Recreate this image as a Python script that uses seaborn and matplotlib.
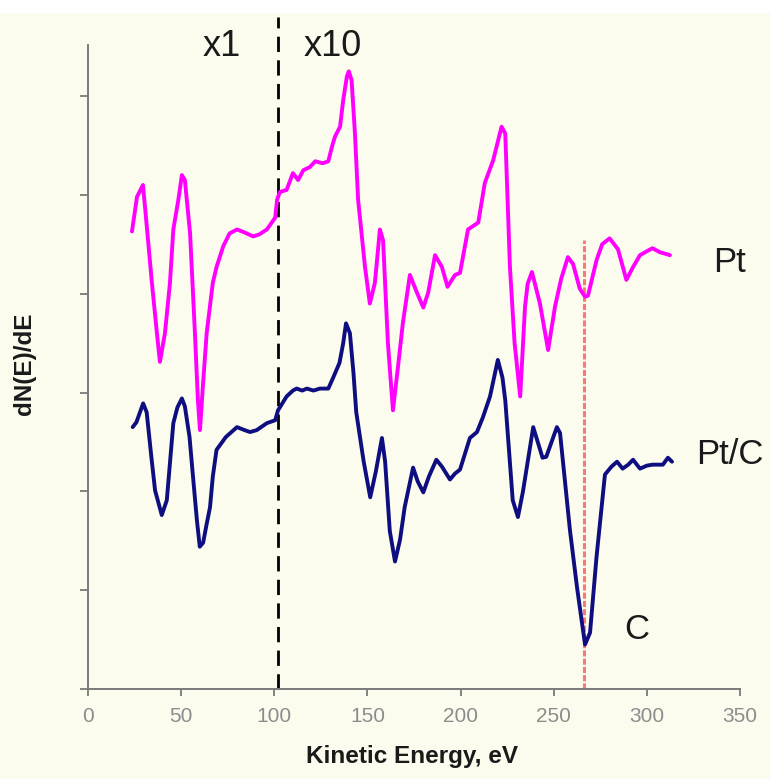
import matplotlib
matplotlib.use("Agg")
import matplotlib.pyplot as plt
import seaborn as sns
import pandas as pd
from matplotlib.patches import Rectangle

# ---- data ----
pt_energy = [23.6, 26.3, 29.5, 30.6, 34.3, 37.0, 38.6, 41.3, 44.0, 45.8, 48.5, 50.4, 52.0,
             54.8, 57.4, 59.0, 60.1, 61.8, 63.7, 67.0, 69.0, 72.6, 76.0, 80.0, 84.0, 88.6,
             92.0, 96.0, 100.5, 101.5, 103.0, 106.6, 110.0, 112.8, 115.6, 119.0, 122.0,
             126.0, 129.0, 131.0, 132.6, 135.3, 137.0, 139.0, 140.0, 141.5, 143.3, 145.0,
             148.7, 151.3, 154.0, 156.7, 158.4, 161.0, 163.7, 166.4, 169.0, 172.8, 176.6,
             180.0, 182.6, 186.3, 190.0, 193.0, 197.0, 199.7, 204.0, 209.5, 213.0, 217.5,
             222.0, 224.0, 226.5, 229.0, 232.0, 234.6, 236.0, 238.3, 242.6, 247.0, 250.7,
             254.0, 257.6, 260.4, 264.0, 266.8, 268.4, 273.0, 276.0, 280.0, 284.5, 289.0,
             292.6, 296.3, 300.0, 303.0, 307.0, 312.4]
pt_signal = [4.63, 4.98, 5.10, 4.88, 4.11, 3.60, 3.31, 3.60, 4.11, 4.65, 4.95, 5.20, 5.15,
             4.61, 3.60, 2.92, 2.62, 3.10, 3.60, 4.11, 4.27, 4.48, 4.61, 4.65, 4.62, 4.58,
             4.60, 4.65, 4.77, 4.95, 5.03, 5.05, 5.22, 5.15, 5.25, 5.28, 5.34,
             5.32, 5.34, 5.49, 5.59, 5.69, 5.96, 6.20, 6.25, 6.16, 5.62, 4.95,
             4.27, 3.90, 4.11, 4.65, 4.54, 3.50, 2.82, 3.26, 3.70, 4.19, 4.01,
             3.86, 4.01, 4.39, 4.27, 4.07, 4.19, 4.21, 4.65, 4.72, 5.12, 5.35,
             5.69, 5.62, 4.27, 3.50, 2.96, 3.87, 4.10, 4.22, 3.90, 3.43, 3.87,
             4.15, 4.37, 4.30, 4.05, 3.97, 3.98, 4.34, 4.50, 4.56, 4.45, 4.14,
             4.27, 4.39, 4.43, 4.46, 4.42, 4.39]

ptc_energy = [24.0, 26.0, 29.6, 31.5, 34.0, 36.0, 39.6, 42.3, 45.8, 48.0, 50.4, 52.0, 54.5,
              56.5, 58.5, 60.0, 61.8, 63.5, 65.5, 67.0, 69.0, 74.0, 80.0, 84.0, 87.0, 90.6,
              96.0, 100.5, 102.0, 106.6, 110.0, 112.0, 115.0, 117.5, 121.0, 124.5, 129.0,
              131.6, 135.0, 137.0, 138.5, 140.6, 142.5, 144.0, 148.0, 151.5, 154.5, 157.8,
              159.5, 162.0, 164.8, 167.5, 170.0, 174.5, 177.0, 180.0, 183.0, 187.0, 190.0,
              194.3, 197.0, 199.7, 205.0, 208.8, 212.0, 215.8, 220.0, 222.5, 224.0, 228.0,
              230.8, 233.5, 239.0, 244.0, 246.0, 251.7, 253.4, 258.7, 262.5, 266.8, 269.5,
              273.0, 277.5, 281.0, 284.0, 287.0, 290.0, 292.6, 296.3, 300.0, 303.0, 308.6,
              311.3, 313.5]
ptc_signal = [2.65, 2.70, 2.89, 2.80, 2.35, 2.01, 1.76, 1.91, 2.69, 2.85, 2.94, 2.86, 2.55,
              2.12, 1.70, 1.44, 1.48, 1.65, 1.84, 2.15, 2.42, 2.55, 2.65, 2.62, 2.60, 2.62,
              2.69, 2.72, 2.82, 2.96, 3.02, 3.04, 3.02, 3.04, 3.02, 3.04, 3.04,
              3.15, 3.30, 3.50, 3.70, 3.60, 3.20, 2.80, 2.30, 1.94, 2.20, 2.54,
              2.30, 1.60, 1.29, 1.51, 1.84, 2.24, 2.10, 1.99, 2.15, 2.32, 2.25,
              2.12, 2.18, 2.22, 2.54, 2.60, 2.75, 2.96, 3.33, 3.15, 2.92, 1.91,
              1.74, 2.00, 2.65, 2.34, 2.35, 2.65, 2.59, 1.61, 1.03, 0.45, 0.57,
              1.34, 2.17, 2.25, 2.30, 2.23, 2.27, 2.32, 2.23, 2.26, 2.27, 2.27,
              2.34, 2.30]

x_ticks = [0, 50, 100, 150, 200, 250, 300, 350]
y_ticks = [0, 1, 2, 3, 4, 5, 6]
scale_split = 102      # x1 / x10 boundary
carbon_line = 266.5    # C peak marker

series_labels = ["Pt", "Pt/C"]
x_label = "Kinetic Energy, eV"
y_label = "dN(E)/dE"

# ---- figure ----
sns.set_theme(style="ticks")
plt.rcParams["font.family"] = ["Liberation Sans", "DejaVu Sans"]

bg = "#FCFCEE"
fig = plt.figure(figsize=(7.7, 7.79), dpi=100, facecolor=bg)
ax = fig.add_axes([88 / 770, 90 / 779, 652 / 770, 672 / 779])
ax.set_facecolor(bg)

df_pt = pd.DataFrame({"energy": pt_energy, "signal": pt_signal})
df_ptc = pd.DataFrame({"energy": ptc_energy, "signal": ptc_signal})

ax.axvline(scale_split, color="black", lw=2.0, ls=(0, (5.5, 3)), zorder=1)
ax.plot([carbon_line, carbon_line], [0, 4.54], color="#FF6060", lw=2.2,
        ls=(0, (2.0, 0.7)), alpha=0.85, zorder=1)

sns.lineplot(data=df_pt, x="energy", y="signal", color="#FF00FF", lw=2.8,
             sort=False, estimator=None, ax=ax, zorder=3)
sns.lineplot(data=df_ptc, x="energy", y="signal", color="#0E0E80", lw=2.8,
             sort=False, estimator=None, ax=ax, zorder=3)

ax.set_xlim(0, 350)
ax.set_ylim(0, 6.8)
ax.set_xticks(x_ticks)
ax.set_yticks(y_ticks)
ax.set_yticklabels([])

for s in ["top", "right"]:
    ax.spines[s].set_visible(False)
ax.spines["left"].set_bounds(0, 6.52)
ax.spines["bottom"].set_bounds(0, 350)
for s in ["left", "bottom"]:
    ax.spines[s].set_color("#7A7A7A")
    ax.spines[s].set_linewidth(1.4)

ax.tick_params(axis="both", direction="out", color="#7A7A7A", width=1.3)
ax.tick_params(axis="y", length=6)
ax.tick_params(axis="x", length=5, labelsize=15, labelcolor="#8C8C8C", pad=8)

ax.set_xlabel(x_label, fontsize=17.5, fontweight="bold", color="#1A1A1A", va="center")
ax.xaxis.set_label_coords(0.497, -0.101)
ax.set_ylabel(y_label, fontsize=17.5, fontweight="bold", color="#1A1A1A", va="center")
ax.yaxis.set_label_coords(-0.098, 0.484)

txt = dict(color="#1A1A1A", ha="center", va="center", clip_on=False)
ax.text(72, 6.50, "x1", fontsize=26, **txt)
ax.text(131.5, 6.50, "x10", fontsize=26, **txt)
ax.text(344.6, 4.32, series_labels[0], fontsize=25, **txt)
ax.text(344.6, 2.37, series_labels[1], fontsize=25, **txt)
ax.text(294.7, 0.60, "C", fontsize=25, **txt)

fig.add_artist(Rectangle((0, 1 - 12 / 779), 1, 12 / 779, transform=fig.transFigure,
                         color="white", zorder=10))

fig.savefig("out.png", dpi=100, facecolor=bg)
